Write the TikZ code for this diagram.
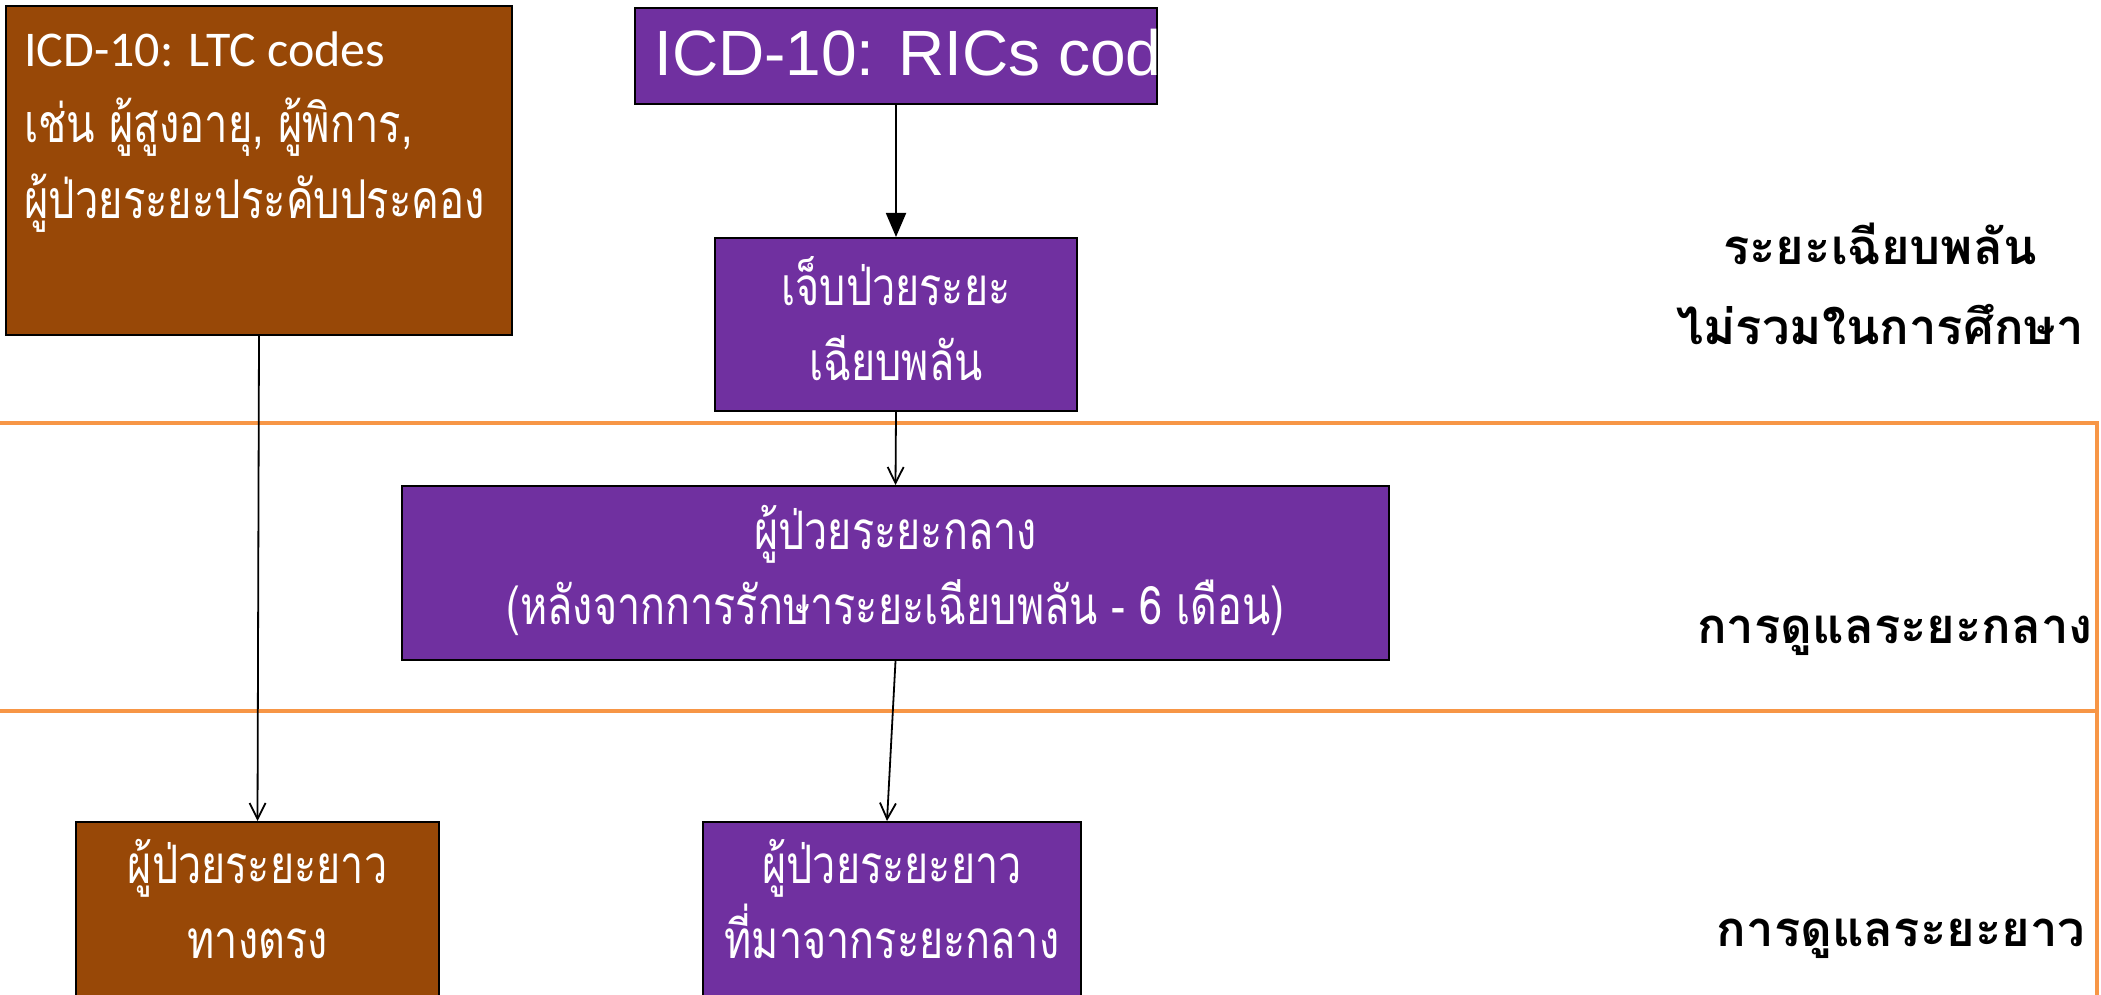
\documentclass[tikz,border=0pt]{standalone}
\usepackage{fontspec}
\usetikzlibrary{arrows.meta}
\newfontfamily\thaibox[Script=Thai,FakeStretch=0.78]{Loma}
\newfontfamily\thailab[Script=Thai]{Loma}
\newfontfamily\carlitof{Carlito}
\newfontfamily\arialf{Liberation Sans}
\definecolor{brownfill}{HTML}{984807}
\definecolor{purplefill}{HTML}{7030A0}
\definecolor{orangeline}{HTML}{F79646}
\tikzset{
  boxbase/.style={draw=black, line width=2pt, inner sep=0pt, text=white},
  brownbox/.style={boxbase, fill=brownfill},
  purplebox/.style={boxbase, fill=purplefill},
  boxtext/.style={text=white, align=center, inner sep=0pt, font=\thaibox\fontsize{53}{75}\selectfont},
  sidelabel/.style={text=black, align=center, inner sep=0pt, font=\thailab\bfseries\fontsize{49}{80}\selectfont},
  band/.style={draw=orangeline, line width=4pt},
  openarr/.style={line width=1.8pt, -{Straight Barb[length=16pt,width=16pt,line width=1.8pt]}},
  fillarr/.style={line width=1.8pt, -{Triangle[length=24pt,width=20pt]}}
}
\begin{document}
\begin{tikzpicture}[x=1pt,y=-1pt]
\useasboundingbox (0,0) rectangle (2101,995);
\clip (0,0) rectangle (2101,995);
\fill[white] (0,0) rectangle (2101,995);
% bands
\draw[band] (-20,423) rectangle (2097,711);
\draw[band] (-20,711) rectangle (2097,1030);
% boxes
\node[brownbox, anchor=north west, minimum width=506pt, minimum height=329pt] (ltc) at (5,5) {};
\node[text=white, anchor=north west, align=left, inner sep=0pt, font=\thaibox\fontsize{53.5}{76}\selectfont] (ltctext) at (24,32)
  {{\carlitof\fontsize{50}{76}\selectfont ICD-10: LTC codes}\\เช่น ผู้สูงอายุ, ผู้พิการ,\\ผู้ป่วยระยะประคับประคอง};
\node[purplebox, anchor=north west, minimum width=522pt, minimum height=96pt] (rics) at (634,7) {};
\begin{scope}
  \clip (rics.south west) rectangle (rics.north east);
  \node[text=white, anchor=west, inner sep=0pt, font=\arialf\fontsize{64}{72}\selectfont] (ricstext) at ([xshift=20pt,yshift=3pt]rics.west) {ICD-10: RICs codes};
\end{scope}
\node[purplebox, anchor=north west, minimum width=362pt, minimum height=173pt] (acute) at (714,237) {};
\node[boxtext] (acutetext) at ([yshift=6pt]acute.center) {เจ็บป่วยระยะ\\เฉียบพลัน};
\node[purplebox, anchor=north west, minimum width=987pt, minimum height=174pt] (mid) at (401,485) {};
\node[boxtext] (midtext) at ([yshift=3pt]mid.center) {ผู้ป่วยระยะกลาง\\(หลังจากการรักษาระยะเฉียบพลัน - 6 เดือน)};
\node[brownbox, anchor=north west, minimum width=363pt, minimum height=200pt] (ltd) at (75,821) {};
\node[boxtext, anchor=north] (ltdtext) at ([yshift=-18pt]ltd.north) {ผู้ป่วยระยะยาว\\ทางตรง};
\node[purplebox, anchor=north west, minimum width=378pt, minimum height=200pt] (ltp) at (702,821) {};
\node[boxtext, anchor=north] (ltptext) at ([yshift=-18pt]ltp.north) {ผู้ป่วยระยะยาว\\ที่มาจากระยะกลาง};
% side labels
\node[sidelabel] (lab1) at (1880,284) {ระยะเฉียบพลัน\\ไม่รวมในการศึกษา};
\node[sidelabel] (lab2) at (1895,636) {การดูแลระยะกลาง};
\node[sidelabel] (lab3) at (1901,939) {การดูแลระยะยาว};
% connectors
\draw[fillarr] (rics.south) -- (acute.north);
\draw[openarr] (acute.south) -- (mid.north);
\draw[openarr] (mid.south) -- ([xshift=-5pt]ltp.north);
\draw[openarr] (ltc.south) -- (ltd.north);
\end{tikzpicture}
\end{document}
